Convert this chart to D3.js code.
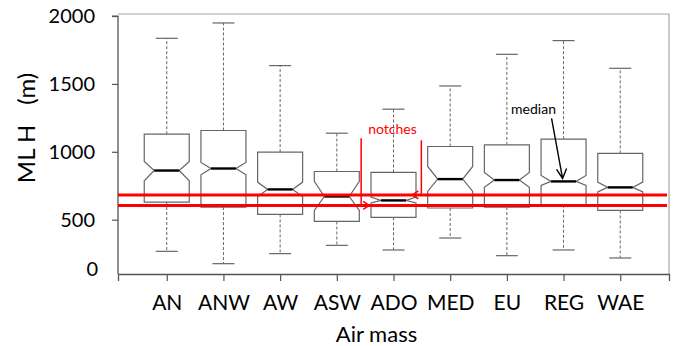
<!DOCTYPE html>
<html>
<head>
<meta charset="utf-8">
<script src="https://cdn.jsdelivr.net/npm/d3@7"></script>
<style>
  body { margin: 0; background: #fff; }
  text { font-family: Lato, "Open Sans", sans-serif; }
</style>
</head>
<body>
<div id="chart"></div>
<script>
// Data (m)
var airMass = ["AN", "ANW", "AW", "ASW", "ADO", "MED", "EU", "REG", "WAE"];
var whiskerLow = [267, 176, 250, 311, 277, 365, 235, 277, 218];
var q1 = [630, 593, 539, 487, 517, 586, 593, 610, 568];
var notchLow = [787, 831, 671, 568, 623, 708, 738, 752, 704];
var median = [862, 877, 723, 671, 642, 799, 792, 782, 738];
var notchHigh = [929, 921, 777, 782, 667, 892, 848, 826, 777];
var q3 = [1130, 1157, 998, 855, 848, 1039, 1051, 1093, 988];
var whiskerHigh = [1836, 1949, 1635, 1137, 1314, 1485, 1718, 1819, 1615];

var yTicks = [500, 1000, 1500, 2000];
var refLines = [682, 605];

var svgWidth = 677;
var svgHeight = 346;

var margin = { top: 14, bottom: 72, right: 8, left: 118 };
var width = svgWidth - margin.left - margin.right;
var height = svgHeight - margin.top - margin.bottom;

var svg = d3.select("#chart")
  .append("svg")
  .attr("width", svgWidth)
  .attr("height", svgHeight);

var chartGroup = svg.append("g")
  .attr("transform", `translate(${margin.left}, ${margin.top})`);

// scales
var xScale = d3.scalePoint()
  .domain(airMass)
  .range([0, width])
  .padding(0.86);

var yScale = d3.scaleLinear()
  .domain([100, 2015])
  .range([height, 0]);

var boxes = airMass.map(function(name, i) {
  return {
    name: name, lo: whiskerLow[i], q1: q1[i], nLo: notchLow[i], med: median[i],
    nHi: notchHigh[i], q3: q3[i], hi: whiskerHigh[i]
  };
});

// frame
chartGroup.append("path")
  .attr("d", `M0,0 H${width} V${height}`)
  .attr("fill", "none")
  .attr("stroke", "#a6a6a6")
  .attr("stroke-width", 1.2);

// axes
var leftAxis = d3.axisLeft(yScale).tickValues(yTicks).tickFormat(d3.format("d")).tickSize(6).tickPadding(17);
var bottomAxis = d3.axisBottom(xScale).tickSize(7).tickPadding(14);

var yAxisG = chartGroup.append("g").call(leftAxis);
var xAxisG = chartGroup.append("g")
  .attr("transform", `translate(0, ${height})`)
  .call(bottomAxis);

[yAxisG, xAxisG].forEach(function(g) {
  g.select(".domain").attr("stroke", "#555").attr("stroke-width", 1.3);
  g.selectAll(".tick line").attr("stroke", "#555").attr("stroke-width", 1.2);
  g.selectAll(".tick text")
    .attr("fill", "#000")
    .style("font-size", "21px")
    .style("font-family", "Lato, sans-serif");
});
yAxisG.selectAll(".tick text").style("font-size", "20px");
yAxisG.select(".domain").attr("d", `M-6,${yScale(2000)}H0V${height}`);
// the picture shows a bare 0 label at the bottom of the axis
yAxisG.append("text")
  .attr("x", -20)
  .attr("y", height - 4)
  .attr("dy", "0.32em")
  .attr("text-anchor", "end")
  .attr("fill", "#000")
  .style("font-size", "20px")
  .text("0");

// whiskers
var hw = 22.5, nw = 12.5, cw = 11;
var boxG = chartGroup.append("g");

boxG.selectAll(".whisker-up")
  .data(boxes).enter().append("line")
  .attr("x1", d => xScale(d.name)).attr("x2", d => xScale(d.name))
  .attr("y1", d => yScale(d.q3)).attr("y2", d => yScale(d.hi))
  .attr("stroke", "#666").attr("stroke-dasharray", "3,2");

boxG.selectAll(".whisker-down")
  .data(boxes).enter().append("line")
  .attr("x1", d => xScale(d.name)).attr("x2", d => xScale(d.name))
  .attr("y1", d => yScale(d.q1)).attr("y2", d => yScale(d.lo))
  .attr("stroke", "#666").attr("stroke-dasharray", "3,2");

boxG.selectAll(".cap-up")
  .data(boxes).enter().append("line")
  .attr("x1", d => xScale(d.name) - cw).attr("x2", d => xScale(d.name) + cw)
  .attr("y1", d => yScale(d.hi)).attr("y2", d => yScale(d.hi))
  .attr("stroke", "#666").attr("stroke-width", 1.2);

boxG.selectAll(".cap-down")
  .data(boxes).enter().append("line")
  .attr("x1", d => xScale(d.name) - cw).attr("x2", d => xScale(d.name) + cw)
  .attr("y1", d => yScale(d.lo)).attr("y2", d => yScale(d.lo))
  .attr("stroke", "#666").attr("stroke-width", 1.2);

// notched boxes
boxG.selectAll(".box")
  .data(boxes).enter().append("path")
  .attr("d", function(d) {
    var c = xScale(d.name);
    var p = d3.path();
    p.moveTo(c - hw, yScale(d.q3));
    p.lineTo(c + hw, yScale(d.q3));
    p.lineTo(c + hw, yScale(d.nHi));
    p.lineTo(c + nw, yScale(d.med));
    p.lineTo(c + hw, yScale(d.nLo));
    p.lineTo(c + hw, yScale(d.q1));
    p.lineTo(c - hw, yScale(d.q1));
    p.lineTo(c - hw, yScale(d.nLo));
    p.lineTo(c - nw, yScale(d.med));
    p.lineTo(c - hw, yScale(d.nHi));
    p.closePath();
    return p.toString();
  })
  .attr("fill", "#fff")
  .attr("stroke", "#666")
  .attr("stroke-width", 1.2);

boxG.selectAll(".median")
  .data(boxes).enter().append("line")
  .attr("x1", d => xScale(d.name) - nw).attr("x2", d => xScale(d.name) + nw)
  .attr("y1", d => yScale(d.med)).attr("y2", d => yScale(d.med))
  .attr("stroke", "#000").attr("stroke-width", 2.4);

// red reference lines
chartGroup.selectAll(".ref")
  .data(refLines).enter().append("line")
  .attr("x1", 0).attr("x2", width - 2)
  .attr("y1", d => yScale(d)).attr("y2", d => yScale(d))
  .attr("stroke", "#ff0000").attr("stroke-width", 3);

// "notches" annotation
var red = "#ff0000";
var step = xScale.step();
var xLeft = xScale("ADO") - step / 2 - 4;
var xRight = xScale("ADO") + step / 2 - 0.5;
var annTop = yScale(1100);

chartGroup.append("path")
  .attr("d", `M${xLeft},${annTop}V${yScale(refLines[1])}H${xLeft + 8}` +
             `M${xLeft + 2},${yScale(refLines[1]) - 4}L${xLeft + 8},${yScale(refLines[1])}L${xLeft + 2},${yScale(refLines[1]) + 4}`)
  .attr("fill", "none").attr("stroke", red).attr("stroke-width", 1.5);

chartGroup.append("path")
  .attr("d", `M${xRight},${annTop + 2}V${yScale(refLines[0])}H${xRight - 9}` +
             `M${xRight - 3},${yScale(refLines[0]) - 4}L${xRight - 9},${yScale(refLines[0])}L${xRight - 3},${yScale(refLines[0]) + 4}`)
  .attr("fill", "none").attr("stroke", red).attr("stroke-width", 1.5);

chartGroup.append("text")
  .attr("x", xScale("ADO") - 1)
  .attr("y", yScale(1100) - 4)
  .attr("text-anchor", "middle")
  .attr("fill", red)
  .style("font-size", "14px")
  .text("notches");

// "median" annotation
var tipX = xScale("REG") - 1;
var tipY = yScale(median[7]) - 3;
chartGroup.append("text")
  .attr("x", xScale("REG") - 30)
  .attr("y", yScale(median[7]) - 67)
  .attr("text-anchor", "middle")
  .attr("fill", "#000")
  .style("font-size", "14px")
  .text("median");

chartGroup.append("path")
  .attr("d", `M${tipX - 11},${tipY - 60}L${tipX},${tipY}` +
             `M${tipX - 6},${tipY - 9}L${tipX},${tipY}L${tipX + 4},${tipY - 10}`)
  .attr("fill", "none").attr("stroke", "#000").attr("stroke-width", 1.4);

// axis titles
svg.append("text")
  .attr("x", margin.left + xScale("ADO") - 17)
  .attr("y", 342)
  .attr("text-anchor", "middle")
  .attr("fill", "#000")
  .style("font-size", "22px")
  .text("Air mass");

var yTitle = svg.append("text")
  .attr("transform", "translate(35, 128) rotate(-90)")
  .attr("text-anchor", "middle")
  .attr("fill", "#000")
  .style("font-size", "24px");
yTitle.append("tspan").text("ML H");
yTitle.append("tspan").attr("dx", 20).text("(m)");
</script>
</body>
</html>
